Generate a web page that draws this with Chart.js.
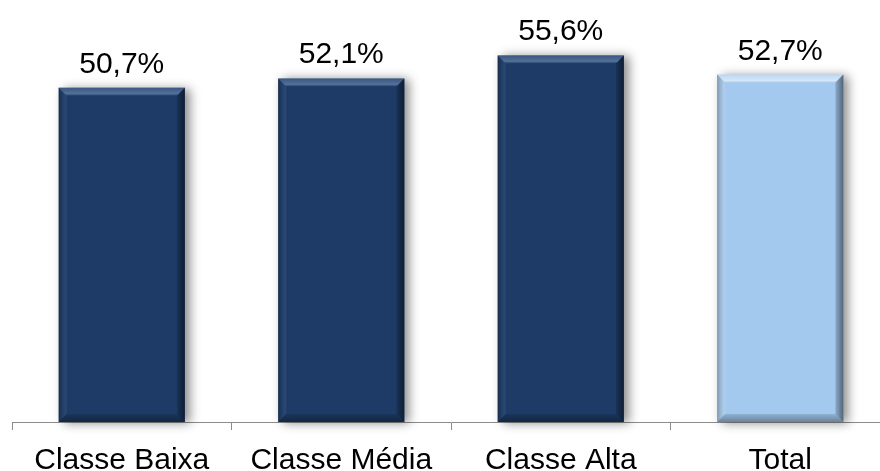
<!DOCTYPE html>
<html>
<head>
<meta charset="utf-8">
<script src="https://cdn.jsdelivr.net/npm/chart.js@4"></script>
<style>
  html, body { margin: 0; padding: 0; background: #fff; overflow: hidden; }
  #wrap { width: 890px; height: 471px; position: relative; }
</style>
</head>
<body>
<div id="wrap"><canvas id="chart"></canvas></div>
<script>
// ---- DATA ----
const categories = ['Classe Baixa', 'Classe Média', 'Classe Alta', 'Total'];
const values = [50.7, 52.1, 55.6, 52.7];
const barColors = ['#1d3b66', '#1d3b66', '#1d3b66', '#a4c9ee'];

const FONT = 'Arial, "Liberation Sans", sans-serif';

function fmt(v) {
  return v.toFixed(1).replace('.', ',') + '%';
}

// bevelled look: soft shadow behind, light top edge, darker sides/bottom
const bevelPlugin = {
  id: 'bevel',
  beforeDatasetsDraw(chart) {
    const c = chart.ctx;
    c.save();
    c.shadowColor = 'rgba(0,0,0,0.45)';
    c.shadowBlur = 10;
    c.shadowOffsetX = 5;
    c.shadowOffsetY = 1;
    chart.getDatasetMeta(0).data.forEach((bar, i) => {
      const x0 = bar.x - bar.width / 2, w = bar.width;
      c.fillStyle = barColors[i];
      c.fillRect(x0, bar.y, w, bar.base - bar.y);
    });
    c.restore();
  },
  afterDatasetsDraw(chart) {
    const c = chart.ctx;
    const b = 8;
    chart.getDatasetMeta(0).data.forEach((bar, i) => {
      const l = bar.x - bar.width / 2, r = bar.x + bar.width / 2;
      const t = bar.y, btm = bar.base;
      const light = i === 3;
      c.save();
      // top edge
      let g = c.createLinearGradient(0, t, 0, t + b);
      g.addColorStop(0, light ? 'rgba(255,255,255,0.25)' : 'rgba(110,140,180,0.35)');
      g.addColorStop(0.75, light ? 'rgba(255,255,255,0.55)' : 'rgba(150,180,215,0.45)');
      g.addColorStop(1, light ? 'rgba(255,255,255,0.1)' : 'rgba(110,140,180,0.1)');
      c.fillStyle = g;
      c.beginPath();
      c.moveTo(l, t); c.lineTo(r, t); c.lineTo(r - b, t + b); c.lineTo(l + b, t + b); c.closePath();
      c.fill();
      // left edge
      g = c.createLinearGradient(l, 0, l + b, 0);
      g.addColorStop(0, 'rgba(0,0,0,0.25)');
      g.addColorStop(1, light ? 'rgba(255,255,255,0.15)' : 'rgba(120,150,195,0.15)');
      c.fillStyle = g;
      c.beginPath();
      c.moveTo(l, t); c.lineTo(l + b, t + b); c.lineTo(l + b, btm - b); c.lineTo(l, btm); c.closePath();
      c.fill();
      // bottom edge
      g = c.createLinearGradient(0, btm - b, 0, btm);
      g.addColorStop(0, 'rgba(0,0,0,0.12)');
      g.addColorStop(1, 'rgba(0,0,0,0.35)');
      c.fillStyle = g;
      c.beginPath();
      c.moveTo(l, btm); c.lineTo(l + b, btm - b); c.lineTo(r - b, btm - b); c.lineTo(r, btm); c.closePath();
      c.fill();
      // right edge
      g = c.createLinearGradient(r - b, 0, r, 0);
      g.addColorStop(0, 'rgba(0,0,0,0.15)');
      g.addColorStop(1, 'rgba(0,0,0,0.5)');
      c.fillStyle = g;
      c.beginPath();
      c.moveTo(r, t); c.lineTo(r, btm); c.lineTo(r - b, btm - b); c.lineTo(r - b, t + b); c.closePath();
      c.fill();
      c.restore();
    });
  },
  afterDraw(chart) {
    const c = chart.ctx;
    c.save();
    c.fillStyle = '#000';
    c.font = '30px ' + FONT;
    c.textAlign = 'center';
    c.textBaseline = 'alphabetic';
    chart.getDatasetMeta(0).data.forEach((bar, i) => {
      c.fillText(fmt(values[i]), bar.x, bar.y - 15);
    });
    c.restore();
  }
};

// ---- CHART ----
const ctx = document.getElementById('chart').getContext('2d');
new Chart(ctx, {
  type: 'bar',
  data: {
    labels: categories,
    datasets: [{
      data: values,
      backgroundColor: 'rgba(0,0,0,0)',
      borderWidth: 0,
      barPercentage: 0.575,
      categoryPercentage: 1
    }]
  },
  options: {
    animation: false,
    responsive: true,
    maintainAspectRatio: false,
    layout: { padding: { left: 12, right: 0, top: 0, bottom: 0 } },
    plugins: { legend: { display: false }, tooltip: { enabled: false } },
    scales: {
      x: {
        grid: { offset: true, drawOnChartArea: false, color: '#8c8c8c', tickLength: 8, lineWidth: 1 },
        border: { color: '#8c8c8c', width: 1 },
        ticks: { color: '#000', font: { family: FONT, size: 30 }, padding: 13, maxRotation: 0 },
        afterFit(scale) { scale.height = 49; }
      },
      y: {
        display: false,
        min: 0,
        max: 64
      }
    }
  },
  plugins: [bevelPlugin]
});
</script>
</body>
</html>
